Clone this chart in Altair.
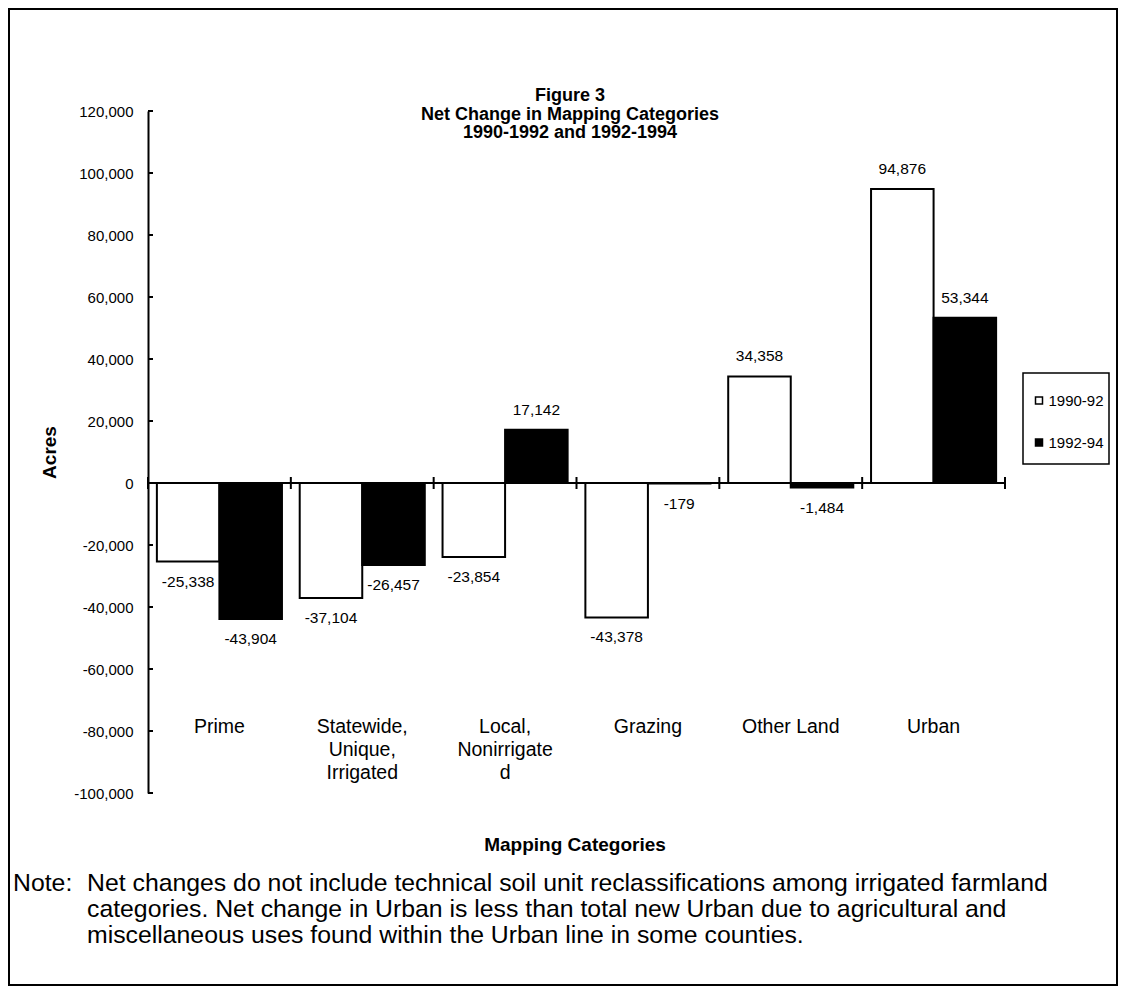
import altair as alt
import pandas as pd

# ---------------- data ----------------
categories = ["Prime", "Statewide, Unique, Irrigated", "Local, Nonirrigated",
              "Grazing", "Other Land", "Urban"]
category_labels = ["Prime", "Statewide,\nUnique,\nIrrigated", "Local,\nNonirrigate\nd",
                   "Grazing", "Other Land", "Urban"]
series = ["1990-92", "1992-94"]
values_1990_92 = [-25338, -37104, -23854, -43378, 34358, 94876]
values_1992_94 = [-43904, -26457, 17142, -179, -1484, 53344]
y_ticks = [-100000, -80000, -60000, -40000, -20000, 0, 20000, 40000, 60000,
           80000, 100000, 120000]

title_lines = ["Figure 3", "Net Change in Mapping Categories", "1990-1992 and 1992-1994"]
x_title = "Mapping Categories"
note_head = "Note:"
note_lines = [
    "Net changes do not include technical soil unit reclassifications among irrigated farmland",
    "categories.  Net change in Urban is less than total new Urban due to agricultural and",
    "miscellaneous uses found within the Urban line in some counties.",
]

rows = []
for s, vals in zip(series, [values_1990_92, values_1992_94]):
    for c, v in zip(categories, vals):
        rows.append({"category": c, "series": s, "value": v, "label": f"{v:,}"})
df = pd.DataFrame(rows)
cat_df = pd.DataFrame({"category": categories, "catlabel": category_labels})
tick_df = pd.DataFrame({"t": y_ticks})
zero_df = pd.DataFrame({"z": [0]})
one = pd.DataFrame({"a": [0]})

# ---------------- layout ----------------
F = "Liberation Sans"
W, H = 857, 682
PAD = {"left": 140, "top": 103, "right": 113, "bottom": 193}
TOTAL_W = W + PAD["left"] + PAD["right"]
TOTAL_H = H + PAD["top"] + PAD["bottom"]
Y0 = H * 120 / 220  # pixel row of the zero line (for the crossing tick length only)

yscale = alt.Scale(domain=[-100000, 120000], nice=False, zero=False)
yaxis = alt.Axis(values=y_ticks, ticks=False, tickSize=0, grid=False,
                 labelExpr="replace(format(datum.value, ',d'), '\u2212', '-')",
                 labelFontSize=15, labelFont=F, labelColor="black", labelPadding=15,
                 domainColor="black", domainWidth=2,
                 title="Acres", titleFont=F, titleFontSize=19, titleFontWeight="bold",
                 titleColor="black", titleX=-99, titleY=H / 2, titleAngle=-90,
                 titleBaseline="middle", titleAlign="center")


def Y(field):
    return alt.Y(field, type="quantitative", scale=yscale, axis=yaxis, title="Acres")


xscale = alt.Scale(paddingInner=0, paddingOuter=0)


def X(**kw):
    return alt.X("category:N", sort=categories, scale=xscale, axis=None, **kw)


xoff = alt.XOffset("series:N", sort=series,
                   scale=alt.Scale(paddingOuter=0.142, paddingInner=0))

bars = alt.Chart(df).mark_bar(stroke="black", strokeWidth=2).encode(
    x=X(), xOffset=xoff, y=Y("value"),
    fill=alt.Fill("series:N", sort=series,
                  scale=alt.Scale(domain=series, range=["white", "black"]),
                  legend=alt.Legend(title=None, orient="none", legendX=883.5, legendY=282,
                                    symbolType="square", symbolSize=49,
                                    symbolStrokeColor="black", symbolStrokeWidth=1.5,
                                    labelFont=F, labelFontSize=15, labelColor="black",
                                    labelOffset=2, rowPadding=26, padding=0)),
)

pos_labels = alt.Chart(df).transform_filter("datum.value >= 0").mark_text(
    dy=-20, font=F, fontSize=15.5, color="black", baseline="middle"
).encode(x=X(), xOffset=xoff, y=Y("value"), text="label:N")

neg_labels = alt.Chart(df).transform_filter("datum.value < 0").mark_text(
    dy=20, font=F, fontSize=15.5, color="black", baseline="middle"
).encode(x=X(), xOffset=xoff, y=Y("value"), text="label:N")

zero_line = alt.Chart(zero_df).mark_rule(color="black", strokeWidth=2).encode(
    y=Y("z"), x=alt.value(0), x2=alt.value(W))

x_ticks = alt.Chart(cat_df).mark_rule(color="black", strokeWidth=2).encode(
    x=X(bandPosition=0), y=alt.value(Y0 - 6), y2=alt.value(Y0 + 6))
x_tick_end = alt.Chart(cat_df).transform_filter(
    alt.datum.category == categories[-1]).mark_rule(color="black", strokeWidth=2).encode(
    x=X(bandPosition=1), y=alt.value(Y0 - 6), y2=alt.value(Y0 + 6))

y_tick_marks = alt.Chart(tick_df).mark_rule(color="black", strokeWidth=2).encode(
    y=Y("t"), x=alt.value(0), x2=alt.value(5))

cat_text = alt.Chart(cat_df).mark_text(
    font=F, fontSize=19.5, color="black", baseline="middle", lineBreak="\n", lineHeight=23
).encode(x=X(), y=alt.value(616), text="catlabel:N")

title_text = alt.Chart(one).mark_text(
    font=F, fontSize=18, fontWeight="bold", color="black", baseline="middle",
    lineHeight=18.5, align="center"
).encode(x=alt.value(422), y=alt.value(-15), text=alt.value(title_lines))

xtitle_text = alt.Chart(one).mark_text(
    font=F, fontSize=19, fontWeight="bold", color="black", baseline="middle", align="center"
).encode(x=alt.value(427), y=alt.value(734), text=alt.value(x_title))

note_head_text = alt.Chart(one).mark_text(
    font=F, fontSize=24.8, color="black", baseline="middle", align="left"
).encode(x=alt.value(-135), y=alt.value(773), text=alt.value(note_head))

note_text = alt.Chart(one).mark_text(
    font=F, fontSize=24.8, color="black", baseline="middle", align="left", lineHeight=26
).encode(x=alt.value(-61), y=alt.value(773), text=alt.value(note_lines))

border = alt.Chart(one).mark_rect(fill="transparent", stroke="black", strokeWidth=2).encode(
    x=alt.value(-PAD["left"] + 1), x2=alt.value(TOTAL_W - PAD["left"] - 1),
    y=alt.value(-PAD["top"] + 1), y2=alt.value(TOTAL_H - PAD["top"] - 1))

legend_box = alt.Chart(one).mark_rect(fill="transparent", stroke="black", strokeWidth=1.5).encode(
    x=alt.value(875), x2=alt.value(961), y=alt.value(262), y2=alt.value(353))

chart = alt.layer(
    border, bars, zero_line, x_ticks, x_tick_end, y_tick_marks,
    pos_labels, neg_labels, cat_text, title_text, xtitle_text,
    note_head_text, note_text, legend_box,
).properties(
    width=W, height=H,
    autosize=alt.AutoSizeParams(type="none"),
    padding=PAD,
    background="white",
).configure_view(strokeWidth=0, stroke="transparent")

chart.save("out.html", embed_options={"renderer": "svg", "actions": False})
